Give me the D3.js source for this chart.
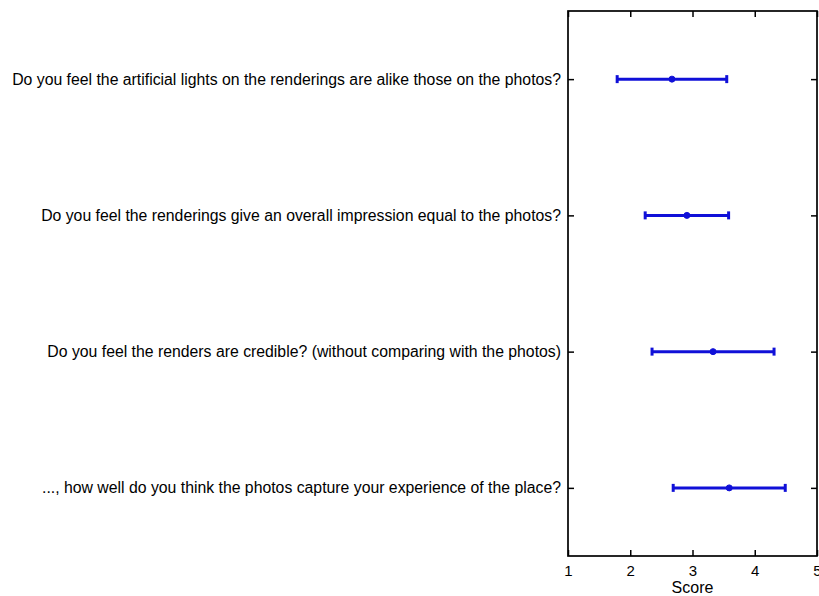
<!DOCTYPE html>
<html>
<head>
<meta charset="utf-8">
<script src="https://cdn.jsdelivr.net/npm/d3@7"></script>
<style>
  body { margin: 0; background: #fff; }
  text { font-family: "Liberation Sans", Arial, sans-serif; fill: #000; }
</style>
</head>
<body>
<svg id="chart" width="819" height="596"></svg>
<script>
// Survey questions, top to bottom
const questions = [
  "Do you feel the artificial lights on the renderings are alike those on the photos?",
  "Do you feel the renderings give an overall impression equal to the photos?",
  "Do you feel the renders are credible? (without comparing with the photos)",
  "..., how well do you think the photos capture your experience of the place?"
];
// Mean score and error half-width per question
const means = [2.67, 2.91, 3.33, 3.59];
const errors = [0.88, 0.67, 0.98, 0.90];
const xTicks = [1, 2, 3, 4, 5];

const svg = d3.select("#chart");
const plotL = 568, plotR = 817, plotT = 11, plotB = 556;

const x = d3.scaleLinear().domain([1, 5]).range([plotL, plotR]);
const y = d3.scaleLinear().domain([0.5, 4.5]).range([plotT, plotB]);
const rows = questions.map((q, i) => ({ q, i: i + 1, m: means[i], e: errors[i] }));

// axes with inward ticks
const tk = 6;
svg.append("g").attr("transform", `translate(0,${plotB})`)
  .call(d3.axisBottom(x).tickValues(xTicks).tickSize(-tk).tickPadding(9).tickFormat(d3.format("d")))
  .call(g => { g.select(".domain").remove(); g.selectAll("text").attr("font-size", 15); });
svg.append("g").attr("transform", `translate(0,${plotT})`)
  .call(d3.axisTop(x).tickValues(xTicks).tickSize(-tk).tickFormat(""))
  .call(g => g.select(".domain").remove());
svg.append("g").attr("transform", `translate(${plotL},0)`)
  .call(d3.axisLeft(y).tickValues(rows.map(r => r.i)).tickSize(-tk).tickPadding(7)
    .tickFormat((d) => questions[d - 1]))
  .call(g => { g.select(".domain").remove(); g.selectAll("text").attr("font-size", 15.8); });
svg.append("g").attr("transform", `translate(${plotR},0)`)
  .call(d3.axisRight(y).tickValues(rows.map(r => r.i)).tickSize(-tk).tickFormat(""))
  .call(g => g.select(".domain").remove());
svg.selectAll(".tick line").attr("stroke", "#000").attr("stroke-width", 1.5);

svg.append("rect").attr("x", plotL).attr("y", plotT)
  .attr("width", plotR - plotL).attr("height", plotB - plotT)
  .attr("fill", "none").attr("stroke", "#000").attr("stroke-width", 1.7);

svg.append("text").attr("x", x(3)).attr("y", 593).attr("text-anchor", "middle")
  .attr("font-size", 16).text("Score");

// error bars
const blue = "#1010d8";
const eb = svg.append("g").attr("stroke", blue).attr("stroke-width", 3).attr("fill", blue);
eb.selectAll(".bar").data(rows).join("line")
  .attr("x1", d => x(d.m - d.e)).attr("x2", d => x(d.m + d.e))
  .attr("y1", d => y(d.i)).attr("y2", d => y(d.i));
eb.selectAll(".capL").data(rows).join("line")
  .attr("x1", d => x(d.m - d.e)).attr("x2", d => x(d.m - d.e))
  .attr("y1", d => y(d.i) - 4).attr("y2", d => y(d.i) + 4);
eb.selectAll(".capR").data(rows).join("line")
  .attr("x1", d => x(d.m + d.e)).attr("x2", d => x(d.m + d.e))
  .attr("y1", d => y(d.i) - 4).attr("y2", d => y(d.i) + 4);
eb.selectAll("circle").data(rows).join("circle")
  .attr("cx", d => x(d.m)).attr("cy", d => y(d.i)).attr("r", 3).attr("stroke-width", 1);
</script>
</body>
</html>
